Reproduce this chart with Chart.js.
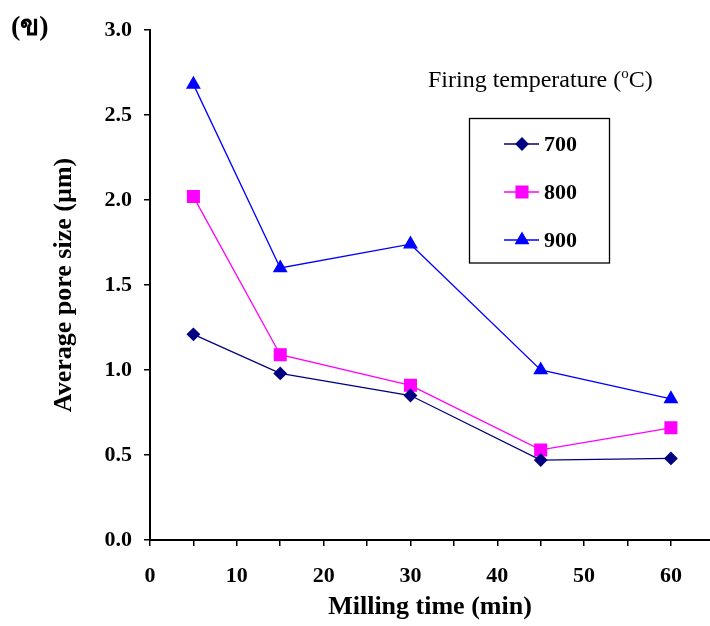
<!DOCTYPE html>
<html lang="th">
<head>
  <meta charset="UTF-8" />
  <title>Average pore size</title>
  <script src="https://cdn.jsdelivr.net/npm/chart.js"></script>
  <style>
    html, body { margin: 0; padding: 0; background: #fff; }
    #wrap { width: 710px; height: 626px; position: relative; }
  </style>
</head>
<body>
  <div id="wrap"><canvas id="poreChart" width="710" height="626"></canvas></div>

  <script>
    // data
    const millingTime = [5, 15, 30, 45, 60];
    const temps = ['700', '800', '900'];
    const pore700 = [1.21, 0.98, 0.85, 0.47, 0.48];
    const pore800 = [2.02, 1.09, 0.91, 0.53, 0.66];
    const pore900 = [2.68, 1.60, 1.74, 1.00, 0.83];
    const xTicks = [0, 5, 10, 15, 20, 25, 30, 35, 40, 45, 50, 55, 60];
    const yTicks = [0, 0.5, 1.0, 1.5, 2.0, 2.5, 3.0];

    const serif = "'Liberation Serif', 'Times New Roman', serif";

    const toPts = vals => millingTime.map((t, i) => ({ x: t, y: vals[i] }));

    const series = [
      { label: temps[0], data: toPts(pore700), color: '#000080', style: 'rectRot', r: 6 },
      { label: temps[1], data: toPts(pore800), color: '#FF00FF', style: 'rect', r: 8.3 },
      { label: temps[2], data: toPts(pore900), color: '#0000FF', style: 'triangle', r: 7.3 }
    ];

    // legend box + its heading, drawn by hand to sit inside the plot
    const legendBox = {
      id: 'legendBox',
      afterDraw(chart) {
        const ctx = chart.ctx;
        ctx.save();
        // heading with superscript o
        ctx.fillStyle = '#000';
        ctx.textBaseline = 'alphabetic';
        ctx.font = '24px ' + serif;
        let x = 428, y = 87;
        const a = 'Firing temperature (';
        ctx.fillText(a, x, y);
        x += ctx.measureText(a).width;
        ctx.font = '15px ' + serif;
        ctx.fillText('o', x, y - 9);
        x += ctx.measureText('o').width;
        ctx.font = '24px ' + serif;
        ctx.fillText('C)', x, y);

        // box
        ctx.strokeStyle = '#000';
        ctx.lineWidth = 1.3;
        ctx.strokeRect(469.5, 118.5, 140, 144.5);

        const rows = [144, 192, 240];
        chart.data.datasets.forEach((ds, i) => {
          const ry = rows[i];
          ctx.strokeStyle = ds.borderColor;
          ctx.lineWidth = 1.3;
          ctx.beginPath();
          ctx.moveTo(504, ry);
          ctx.lineTo(539, ry);
          ctx.stroke();
          Chart.helpers.drawPoint(ctx, {
            pointStyle: ds.pointStyle,
            radius: ds.pointRadius,
            borderWidth: 1,
            rotation: 0
          }, 522, ry);
          ctx.fillStyle = ds.pointBackgroundColor;
          ctx.fill();
          ctx.fillStyle = '#000';
          ctx.font = 'bold 22px ' + serif;
          ctx.textBaseline = 'middle';
          ctx.fillText(ds.label, 544, ry + 1);
        });

        // panel tag
        ctx.font = 'bold 28px ' + serif;
        ctx.textBaseline = 'alphabetic';
        ctx.fillStyle = '#000';
        ctx.fillText('(ข)', 11, 35);
        ctx.restore();
      }
    };

    new Chart(document.getElementById('poreChart'), {
      type: 'line',
      data: {
        datasets: series.map(s => ({
          label: s.label,
          data: s.data,
          borderColor: s.color,
          backgroundColor: s.color,
          pointBackgroundColor: s.color,
          pointBorderColor: s.color,
          pointStyle: s.style,
          pointRadius: s.r,
          pointHoverRadius: s.r,
          borderWidth: 1.3,
          tension: 0,
          clip: false
        }))
      },
      options: {
        responsive: false,
        animation: false,
        layout: { autoPadding: false, padding: { top: 30, right: 0, left: 0, bottom: 0 } },
        plugins: {
          legend: { display: false },
          tooltip: { enabled: false }
        },
        scales: {
          x: {
            type: 'linear',
            min: 0,
            max: 64.5,
            afterBuildTicks: s => { s.ticks = xTicks.map(v => ({ value: v })); },
            afterFit: s => { s.height = 86; s.paddingRight = 0; s.paddingLeft = 0; },
            ticks: {
              autoSkip: false,
              maxRotation: 0,
              padding: 17,
              color: '#000',
              font: { family: serif, size: 22, weight: 'bold' },
              callback: v => (v % 10 === 0 ? v : '')
            },
            grid: { drawOnChartArea: false, drawTicks: true, tickLength: 6, color: '#000', lineWidth: 1.5 },
            border: { color: '#000', width: 2 },
            title: {
              display: true,
              text: 'Milling time (min)',
              color: '#000',
              font: { family: serif, size: 26, weight: 'bold' },
              padding: { top: 0, bottom: 3 }
            }
          },
          y: {
            min: 0,
            max: 3,
            afterBuildTicks: s => { s.ticks = yTicks.map(v => ({ value: v })); },
            afterFit: s => { s.width = 150; },
            ticks: {
              color: '#000',
              padding: 12,
              font: { family: serif, size: 22, weight: 'bold' },
              callback: v => v.toFixed(1)
            },
            grid: { drawOnChartArea: false, drawTicks: true, tickLength: 6, color: '#000', lineWidth: 1.5 },
            border: { color: '#000', width: 2 },
            title: {
              display: true,
              text: 'Average pore size (µm)',
              color: '#000',
              font: { family: serif, size: 26, weight: 'bold' },
              padding: { top: 49, bottom: 0 }
            }
          }
        }
      },
      plugins: [legendBox]
    });
  </script>
</body>
</html>
